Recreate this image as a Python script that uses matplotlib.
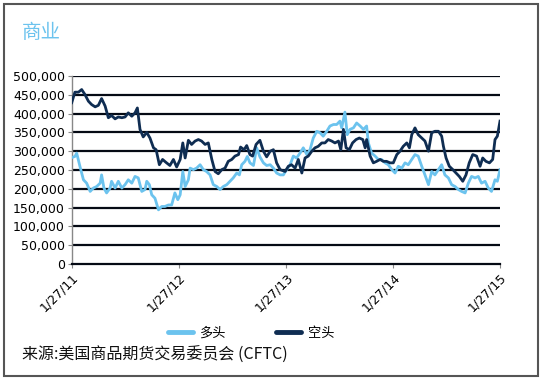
import datetime as dt
import matplotlib
matplotlib.use("Agg")
import matplotlib.pyplot as plt
from matplotlib.patches import Rectangle
from matplotlib.ticker import FuncFormatter

plt.rcParams['font.family'] = ['DejaVu Sans']
cjk = ['Noto Sans CJK SC', 'DejaVu Sans']

start = dt.date(2011, 1, 27)

# 空头 (short) - days since 1/27/11, value in thousands
short_days = [0, 11, 23, 34, 45, 57, 68, 80, 91, 102, 114, 125, 136, 148, 159, 171, 182, 193,
              205, 216, 224, 233, 244, 256, 267, 279, 288, 299, 310, 322, 335, 347, 358, 370,
              379, 387, 398, 409, 421, 432, 443, 455, 466, 478, 489, 500, 512, 523, 534, 546,
              557, 569, 576, 588, 597, 608, 617, 629, 642, 654, 665, 677, 688, 699, 711, 728,
              739, 750, 762, 773, 785, 796, 807, 819, 830, 841, 853, 864, 875, 887, 898, 910,
              918, 927, 936, 947, 958, 970, 981, 993, 1001, 1006, 1018, 1029, 1040, 1052, 1063,
              1074, 1086, 1097, 1109, 1120, 1131, 1143, 1152, 1160, 1171, 1182, 1194, 1205,
              1217, 1228, 1239, 1251, 1262, 1268, 1277, 1288, 1300, 1311, 1322, 1334, 1345,
              1356, 1368, 1381, 1393, 1402, 1413, 1425, 1436, 1444, 1452, 1461]
short_vals = [429, 457, 457, 464, 451, 433, 424, 418, 422, 440, 420, 389, 395, 386, 391, 389, 391, 402,
              393, 402, 415, 358, 338, 350, 335, 309, 304, 264, 278, 270, 262, 278, 258, 278,
              322, 282, 329, 318, 327, 331, 327, 318, 322, 278, 246, 240, 251, 255, 273, 278,
              287, 291, 311, 304, 315, 291, 287, 318, 329, 300, 285, 300, 304, 269, 251, 246,
              260, 264, 255, 278, 242, 282, 287, 300, 309, 313, 322, 322, 331, 327, 322, 327,
              304, 358, 309, 304, 322, 331, 335, 331, 309, 331, 287, 269, 273, 278, 273,
              273, 269, 269, 291, 300, 313, 322, 309, 344, 362, 344, 335, 327,
              300, 349, 353, 353, 340, 313, 282, 260, 251, 242, 233, 220, 237,
              269, 291, 287, 260, 282, 273, 269, 278, 331, 340, 380]

# 多头 (long)
long_days = [0, 11, 17, 28, 40, 51, 63, 74, 85, 97, 102, 110, 119, 131, 136, 148, 159, 171, 182,
             193, 205, 216, 227, 239, 250, 256, 265, 273, 284, 296, 307, 318, 330, 341, 352,
             362, 370, 379, 387, 398, 404, 415, 426, 438, 449, 460, 472, 483, 495, 506, 517,
             529, 540, 551, 563, 572, 580, 591, 599, 608, 620, 631, 642, 654, 665, 677, 688,
             699, 711, 722, 733, 745, 756, 767, 779, 790, 802, 813, 824, 836, 847, 858, 870,
             881, 893, 904, 915, 921, 932, 940, 949, 961, 972, 984, 995, 1006, 1012, 1023,
             1035, 1046, 1057, 1069, 1080, 1092, 1103, 1114, 1126, 1137, 1148, 1160, 1171,
             1182, 1194, 1205, 1217, 1228, 1239, 1251, 1262, 1273, 1285, 1296, 1308, 1319,
             1330, 1342, 1353, 1364, 1376, 1387, 1398, 1410, 1421, 1432, 1444, 1452, 1461]
long_vals = [283, 286, 295, 260, 224, 215, 193, 202, 206, 215, 237, 202, 189, 202, 220, 202, 220, 202, 211,
             224, 215, 233, 229, 193, 198, 220, 211, 184, 175, 144, 153, 153, 157, 157, 189,
             171, 184, 246, 206, 224, 255, 251, 255, 264, 251, 246, 237, 211, 206, 198, 206,
             211, 220, 229, 242, 237, 264, 273, 286, 269, 262, 309, 285, 269, 262, 264, 255,
             242, 237, 237, 251, 264, 287, 282, 295, 309, 291, 304, 335, 353, 349, 340, 353,
             367, 371, 371, 380, 362, 404, 344, 358, 362, 375, 367, 358, 367, 322, 295,
             287, 278, 278, 269, 264, 251, 242, 260, 255, 269, 264, 278, 291,
             287, 260, 237, 211, 246, 237, 251, 264, 237, 229, 211, 206, 198,
             193, 189, 215, 233, 229, 233, 215, 220, 202, 193, 224, 220, 251]

tick_dates = [dt.date(2011, 1, 27), dt.date(2012, 1, 27), dt.date(2013, 1, 27),
              dt.date(2014, 1, 27), dt.date(2015, 1, 27)]
tick_labels = ['1/27/11', '1/27/12', '1/27/13', '1/27/14', '1/27/15']

light = '#6CC3EE'
navy = '#0F2D52'

short_x = [start + dt.timedelta(days=d) for d in short_days]
long_x = [start + dt.timedelta(days=d) for d in long_days]

fig = plt.figure(figsize=(5.42, 3.82), dpi=100)
fig.patches.append(Rectangle((4 / 542, 6 / 382), 534 / 542, 372 / 382, transform=fig.transFigure,
                             fill=False, edgecolor='#555555', linewidth=1.5))

ax = fig.add_axes([71.7 / 542, 118 / 382, 428.3 / 542, 188 / 382])
for v in range(50000, 500001, 50000):
    ax.axhline(v, color='#050a14', linewidth=1.6, zorder=1)

ax.plot(long_x, [v * 1000 for v in long_vals], color=light, linewidth=2.0, label='多头', zorder=3)
ax.plot(short_x, [v * 1000 for v in short_vals], color=navy, linewidth=2.0, label='空头', zorder=4)

ax.set_xlim(tick_dates[0], tick_dates[-1])
ax.set_ylim(0, 500000)
ax.set_yticks(range(0, 500001, 50000))
ax.yaxis.set_major_formatter(FuncFormatter(lambda v, p: f'{int(v):,}'))
ax.set_xticks(tick_dates)
ax.set_xticklabels(tick_labels, rotation=45, ha='right', rotation_mode='anchor')
ax.tick_params(axis='both', labelsize=9, length=3, color='#888888', pad=2)

for s in ['top', 'right']:
    ax.spines[s].set_visible(False)
ax.spines['left'].set_color('#888888')
ax.spines['left'].set_linewidth(1)
ax.spines['bottom'].set_color('#050a14')
ax.spines['bottom'].set_linewidth(1.6)

fig.text(22 / 542, 1 - 33 / 382, '商业', color=light, fontsize=14, family=cjk, va='center')

leg = fig.legend(loc='center', bbox_to_anchor=(0.463, 1 - 333 / 382), ncol=2, frameon=False,
                 prop={'family': cjk, 'size': 9.5}, handlelength=1.9, columnspacing=3.8,
                 handletextpad=0.5)
for line in leg.get_lines():
    line.set_linewidth(3.5)
    line.set_solid_capstyle('round')

fig.text(22 / 542, 1 - 355 / 382, '来源:美国商品期货交易委员会 (CFTC)', fontsize=11.5,
         family=cjk, va='center', color='#111111')

fig.savefig('out.png', dpi=100)
